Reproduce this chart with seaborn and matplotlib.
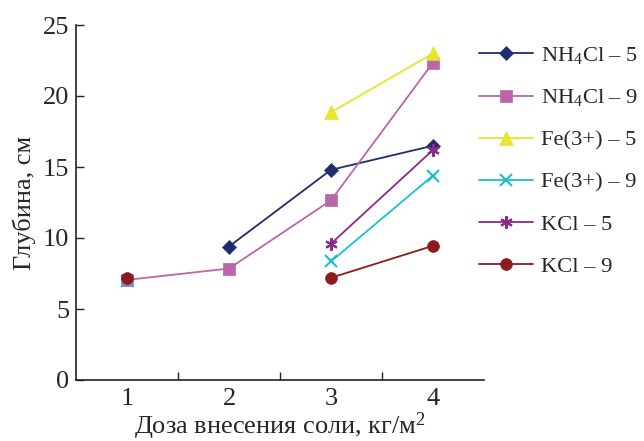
import numpy as np
import pandas as pd
import matplotlib
matplotlib.use("Agg")
import matplotlib.pyplot as plt
import seaborn as sns
from matplotlib.lines import Line2D

# ---- data ----
doses = [1, 2, 3, 4]
nh4cl_5 = [np.nan, 9.4, 14.8, 16.5]
nh4cl_9 = [7.05, 7.85, 12.65, 22.35]
fe_5 = [np.nan, np.nan, 18.85, 23.0]
fe_9 = [7.0, np.nan, 8.35, 14.4]
kcl_5 = [np.nan, np.nan, 9.6, 16.2]
kcl_9 = [7.2, np.nan, 7.2, 9.45]
labels = ["NH$_4$Cl – 5", "NH$_4$Cl – 9", "Fe(3+) – 5", "Fe(3+) – 9", "KCl – 5", "KCl – 9"]
yticks = [0, 5, 10, 15, 20, 25]

series = [nh4cl_5, nh4cl_9, fe_5, fe_9, kcl_5, kcl_9]
colors = ["#1f2d6e", "#bb66aa", "#e6e62e", "#1cbfcf", "#8a2a8a", "#8c1a1e"]
markers = ["D", "s", "^", "x", (6, 2, 0), "o"]
msizes = [7.5, 8, 9.5, 8, 9, 8.5]

sns.set_theme(style="ticks")
plt.rcParams["font.family"] = ["Liberation Serif", "DejaVu Serif"]
plt.rcParams["mathtext.fontset"] = "custom"
plt.rcParams["mathtext.rm"] = "Liberation Serif"
plt.rcParams["mathtext.it"] = "Liberation Serif:italic"

fig = plt.figure(figsize=(6.44, 4.41), dpi=100)
ax = fig.add_axes([76 / 644, 61 / 441, (484 - 76) / 644, (380 - 25) / 441])

handles = []
for vals, lab, c, m, ms in zip(series, labels, colors, markers, msizes):
    df = pd.DataFrame({"x": doses, "y": vals})
    df["seg"] = df["y"].isna().cumsum()
    df = df.dropna()
    mew = 1.5 if (m == "x" or isinstance(m, tuple)) else 0.5
    for _, part in df.groupby("seg"):
        sns.lineplot(data=part, x="x", y="y", ax=ax, color=c, marker=m,
                     markersize=ms, markeredgecolor=c, markeredgewidth=mew,
                     linewidth=1.3, estimator=None, sort=False, legend=False)
    handles.append(Line2D([], [], color=c, marker=m, markersize=ms, markeredgecolor=c,
                          markeredgewidth=mew, linewidth=1.3, label=lab))

ax.set_xlim(0.5, 4.5)
ax.set_ylim(0, 25)
ax.set_xticks(doses)
ax.set_xticklabels([str(d) for d in doses])
ax.set_xticks([1.5, 2.5, 3.5], minor=True)
ax.set_yticks(yticks)
ax.tick_params(axis="x", which="major", length=0, labelsize=19, pad=6)
ax.tick_params(axis="x", which="minor", direction="in", length=6, width=1, color="#222222")
ax.tick_params(axis="y", which="major", direction="in", length=6, width=1, labelsize=19, color="#222222", pad=5)
for s in ["top", "right"]:
    ax.spines[s].set_visible(False)
for s in ["left", "bottom"]:
    ax.spines[s].set_linewidth(1.2)
    ax.spines[s].set_color("#222222")

ax.set_xlabel("Доза внесения соли, кг/м$^2$", fontsize=19, labelpad=0)
ax.set_ylabel("Глубина, см", fontsize=19, labelpad=5)

fig.legend(handles=handles, loc="upper left", bbox_to_anchor=(479 / 644, 1 - 45 / 441),
           frameon=False, fontsize=16.2, handlelength=2.4, handletextpad=0.35,
           labelspacing=0.95, borderpad=0, borderaxespad=0)

fig.savefig("out.png", dpi=100)
